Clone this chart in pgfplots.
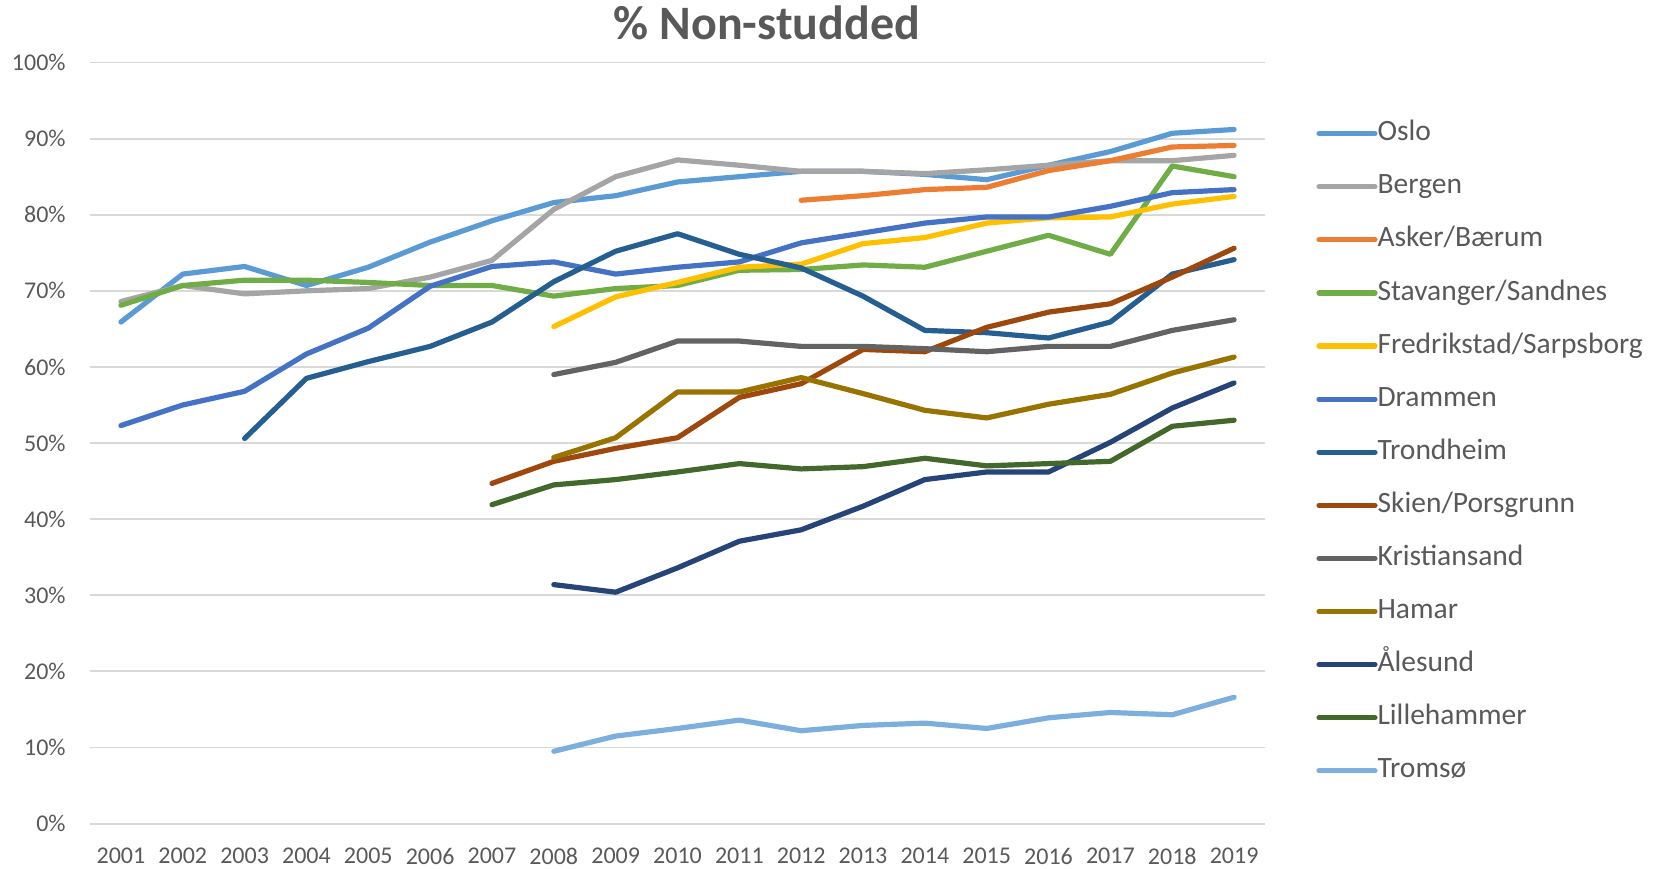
\documentclass[border=0pt]{standalone}
\usepackage{fontspec}
\setmainfont{Carlito}
\usepackage{pgfplots}
\pgfplotsset{compat=1.18}
\definecolor{ctext}{HTML}{595959}
\definecolor{cgrid}{HTML}{D9D9D9}
\definecolor{cOslo}{HTML}{5B9BD5}
\definecolor{cBergen}{HTML}{A5A5A5}
\definecolor{cAsker}{HTML}{ED7D31}
\definecolor{cStav}{HTML}{70AD47}
\definecolor{cFred}{HTML}{FFC000}
\definecolor{cDram}{HTML}{4472C4}
\definecolor{cTrond}{HTML}{255E91}
\definecolor{cSkien}{HTML}{9E480E}
\definecolor{cKris}{HTML}{636363}
\definecolor{cHamar}{HTML}{997300}
\definecolor{cAles}{HTML}{264478}
\definecolor{cLille}{HTML}{43682B}
\definecolor{cTromso}{HTML}{7CAFDD}
\begin{document}
\begin{tikzpicture}
\useasboundingbox (0,0) rectangle (830pt,434pt);
\node[anchor=base, font=\fontsize{24}{28}\selectfont\bfseries, text=ctext, inner sep=0pt] at (383.4pt,414pt) {\% Non-studded};
\begin{axis}[
  at={(45pt,22.2pt)}, anchor=south west,
  scale only axis, width=587.5pt, height=380.55pt,
  xmin=2000.5, xmax=2019.5, ymin=0, ymax=100,
  xtick={2001,2002,2003,2004,2005,2006,2007,2008,2009,2010,2011,2012,2013,2014,2015,2016,2017,2018,2019},
  xticklabels={2001,2002,2003,2004,2005,2006,2007,2008,2009,2010,2011,2012,2013,2014,2015,2016,2017,2018,2019},
  ytick={0,10,20,30,40,50,60,70,80,90,100},
  yticklabels={0\%,10\%,20\%,30\%,40\%,50\%,60\%,70\%,80\%,90\%,100\%},
  ymajorgrids, grid style={cgrid, line width=0.9pt},
  axis line style={draw=none},
  major tick length=0pt, tick style={draw=none},
  ticklabel style={font=\fontsize{12}{14}\selectfont, text=ctext, inner sep=0pt},
  yticklabel style={anchor=east, xshift=-12pt},
  xticklabel style={anchor=north, yshift=-12pt},
  clip=false,
  every axis plot/.append style={line width=2.6pt, line join=round, line cap=round},
  legend image code/.code={\draw[#1, line cap=round] (0pt,3.55pt) -- (28pt,3.55pt);},
  legend style={at={(1.0434,0.924)}, anchor=north west, draw=none, fill=none,
    inner sep=0pt, font=\fontsize{14.75}{17}\selectfont, text=ctext,
    row sep=13.55pt, cells={anchor=base west},
    nodes={inner sep=0pt, text height=10pt, text depth=3pt},
    /tikz/every even column/.append style={column sep=2pt}},
]
\addplot[cOslo] coordinates {(2001,65.9)(2002,72.2)(2003,73.2)(2004,70.7)(2005,73.1)(2006,76.4)(2007,79.2)(2008,81.6)(2009,82.5)(2010,84.3)(2011,85.0)(2012,85.7)(2013,85.7)(2014,85.3)(2015,84.6)(2016,86.5)(2017,88.3)(2018,90.7)(2019,91.2)};
\addlegendentry{Oslo}
\addplot[cBergen] coordinates {(2001,68.6)(2002,70.7)(2003,69.6)(2004,70.0)(2005,70.3)(2006,71.8)(2007,74.0)(2008,80.7)(2009,85.0)(2010,87.2)(2011,86.5)(2012,85.7)(2013,85.7)(2014,85.4)(2015,85.9)(2016,86.5)(2017,87.1)(2018,87.1)(2019,87.8)};
\addlegendentry{Bergen}
\addplot[cAsker] coordinates {(2012,81.9)(2013,82.5)(2014,83.3)(2015,83.6)(2016,85.8)(2017,87.1)(2018,88.9)(2019,89.1)};
\addlegendentry{Asker/Bærum}
\addplot[cStav] coordinates {(2001,68.1)(2002,70.7)(2003,71.4)(2004,71.4)(2005,71.1)(2006,70.7)(2007,70.7)(2008,69.3)(2009,70.3)(2010,70.7)(2011,72.7)(2012,72.8)(2013,73.4)(2014,73.1)(2015,75.2)(2016,77.3)(2017,74.8)(2018,86.4)(2019,85.0)};
\addlegendentry{Stavanger/Sandnes}
\addplot[cFred] coordinates {(2008,65.3)(2009,69.2)(2010,71.1)(2011,73.1)(2012,73.5)(2013,76.2)(2014,77.0)(2015,78.9)(2016,79.6)(2017,79.7)(2018,81.4)(2019,82.4)};
\addlegendentry{Fredrikstad/Sarpsborg}
\addplot[cDram] coordinates {(2001,52.3)(2002,55.0)(2003,56.8)(2004,61.7)(2005,65.1)(2006,70.6)(2007,73.2)(2008,73.8)(2009,72.2)(2010,73.1)(2011,73.8)(2012,76.3)(2013,77.6)(2014,78.9)(2015,79.7)(2016,79.7)(2017,81.1)(2018,82.9)(2019,83.3)};
\addlegendentry{Drammen}
\addplot[cTrond] coordinates {(2003,50.6)(2004,58.5)(2005,60.7)(2006,62.7)(2007,65.9)(2008,71.2)(2009,75.2)(2010,77.5)(2011,74.8)(2012,73.0)(2013,69.3)(2014,64.8)(2015,64.5)(2016,63.8)(2017,65.9)(2018,72.2)(2019,74.1)};
\addlegendentry{Trondheim}
\addplot[cSkien] coordinates {(2007,44.7)(2008,47.6)(2009,49.3)(2010,50.7)(2011,56.0)(2012,57.8)(2013,62.3)(2014,62.0)(2015,65.2)(2016,67.2)(2017,68.3)(2018,71.8)(2019,75.6)};
\addlegendentry{Skien/Porsgrunn}
\addplot[cKris] coordinates {(2008,59.0)(2009,60.6)(2010,63.4)(2011,63.4)(2012,62.7)(2013,62.7)(2014,62.4)(2015,62.0)(2016,62.7)(2017,62.7)(2018,64.8)(2019,66.2)};
\addlegendentry{Kristiansand}
\addplot[cHamar] coordinates {(2008,48.1)(2009,50.7)(2010,56.7)(2011,56.7)(2012,58.6)(2013,56.5)(2014,54.3)(2015,53.3)(2016,55.1)(2017,56.4)(2018,59.2)(2019,61.3)};
\addlegendentry{Hamar}
\addplot[cAles] coordinates {(2008,31.4)(2009,30.4)(2010,33.6)(2011,37.1)(2012,38.6)(2013,41.7)(2014,45.2)(2015,46.2)(2016,46.2)(2017,50.1)(2018,54.6)(2019,57.9)};
\addlegendentry{Ålesund}
\addplot[cLille] coordinates {(2007,41.9)(2008,44.5)(2009,45.2)(2010,46.2)(2011,47.3)(2012,46.6)(2013,46.9)(2014,48.0)(2015,47.0)(2016,47.3)(2017,47.6)(2018,52.2)(2019,53.0)};
\addlegendentry{Lillehammer}
\addplot[cTromso] coordinates {(2008,9.5)(2009,11.5)(2010,12.5)(2011,13.6)(2012,12.2)(2013,12.9)(2014,13.2)(2015,12.5)(2016,13.9)(2017,14.6)(2018,14.3)(2019,16.6)};
\addlegendentry{Tromsø}
\end{axis}
\end{tikzpicture}
\end{document}
